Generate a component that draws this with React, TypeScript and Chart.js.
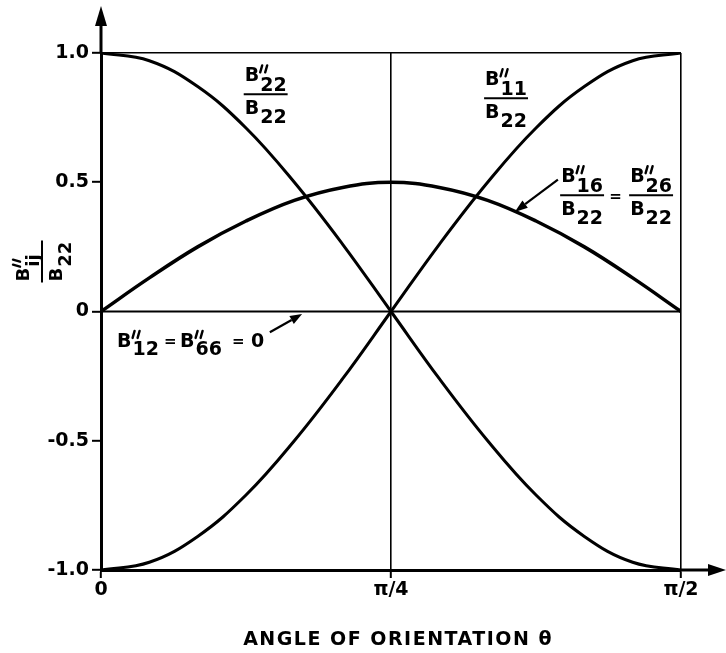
import React, { useEffect, useRef } from "react";
import { Chart, registerables } from "chart.js";

Chart.register(...registerables);

// Angle of orientation in degrees (0 .. 90 = 0 .. π/2)
const angles = [0, 7.5, 15, 22.5, 30, 37.5, 45, 52.5, 60, 67.5, 75, 82.5, 90];
// B''22 / B22
const b22Ratio = [1.0, 0.97, 0.87, 0.71, 0.5, 0.26, 0.0, -0.26, -0.5, -0.71, -0.87, -0.97, -1.0];
// B''11 / B22
const b11Ratio = [-1.0, -0.97, -0.87, -0.71, -0.5, -0.26, 0.0, 0.26, 0.5, 0.71, 0.87, 0.97, 1.0];
// B''16 / B22 = B''26 / B22
const b16Ratio = [0.0, 0.13, 0.25, 0.35, 0.43, 0.48, 0.5, 0.48, 0.43, 0.35, 0.25, 0.13, 0.0];
// B''12 = B''66 = 0
const b12Ratio = [0, 0, 0, 0, 0, 0, 0, 0, 0, 0, 0, 0, 0];

const xTickValues = [0, 45, 90];
const xTickLabels = ["0", "π/4", "π/2"];
const yTickValues = [-1, -0.5, 0, 0.5, 1];
const yTickLabels = ["-1.0", "-0.5", "0", "0.5", "1.0"];

const FONT_FAMILY = '"DejaVu Sans", "Liberation Sans", sans-serif';
const F = `bold 19px ${FONT_FAMILY}`;

function drawPrime(ctx: CanvasRenderingContext2D, x: number, top: number) {
  ctx.save();
  ctx.lineWidth = 2.4;
  ctx.lineCap = "round";
  for (let i = 0; i < 2; i++) {
    ctx.beginPath();
    ctx.moveTo(x + 3 + i * 5, top - 1);
    ctx.lineTo(x + 1 + i * 5, top + 6);
    ctx.stroke();
  }
  ctx.restore();
}

function drawB(
  ctx: CanvasRenderingContext2D,
  x: number,
  baseline: number,
  sub: string,
  prime: boolean,
  subDy: number,
  font: string = F
): number {
  ctx.font = font;
  ctx.textAlign = "left";
  ctx.textBaseline = "alphabetic";
  ctx.fillText("B", x, baseline);
  const bw = ctx.measureText("B").width;
  if (prime) drawPrime(ctx, x + bw, baseline - 15);
  ctx.fillText(sub, x + bw + 1, baseline + subDy);
  return bw + 1 + ctx.measureText(sub).width;
}

function drawFrac(
  ctx: CanvasRenderingContext2D,
  x: number,
  L: number,
  numSub: string,
  denSub: string,
  font: string = F
): number {
  const w1 = drawB(ctx, x, L - 13, numSub, true, 10, font);
  const w2 = drawB(ctx, x, L + 20, denSub, false, 9, font);
  const w = Math.max(w1, w2);
  ctx.save();
  ctx.lineWidth = 2;
  ctx.beginPath();
  ctx.moveTo(x - 1, L);
  ctx.lineTo(x + w + 1, L);
  ctx.stroke();
  ctx.restore();
  return w;
}

function arrow(
  ctx: CanvasRenderingContext2D,
  x1: number,
  y1: number,
  x2: number,
  y2: number,
  head: number,
  half: number,
  lw: number
) {
  const a = Math.atan2(y2 - y1, x2 - x1);
  const bx = x2 - head * Math.cos(a);
  const by = y2 - head * Math.sin(a);
  ctx.save();
  ctx.lineWidth = lw;
  ctx.beginPath();
  ctx.moveTo(x1, y1);
  ctx.lineTo(bx, by);
  ctx.stroke();
  ctx.beginPath();
  ctx.moveTo(x2, y2);
  ctx.lineTo(bx + half * Math.sin(a), by - half * Math.cos(a));
  ctx.lineTo(bx - half * Math.sin(a), by + half * Math.cos(a));
  ctx.closePath();
  ctx.fill();
  ctx.restore();
}

const annotationPlugin = {
  id: "annotations",
  afterDraw(chart: any) {
    const ctx: CanvasRenderingContext2D = chart.ctx;
    const xs = chart.scales.x;
    const ys = chart.scales.y;
    const area = chart.chartArea;
    const px = (v: number) => xs.getPixelForValue(v);
    const py = (v: number) => ys.getPixelForValue(v);
    ctx.save();
    ctx.fillStyle = "#000";
    ctx.strokeStyle = "#000";

    // axis arrows
    arrow(ctx, area.left, area.top, area.left, 6, 20, 6, 3);
    arrow(ctx, area.right, area.bottom, 726, area.bottom, 18, 6, 3);

    // B''22 / B22 label
    drawFrac(ctx, px(22.3), py(0.84), "22", "22");
    // B''11 / B22 label
    drawFrac(ctx, px(59.6), py(0.825), "11", "22");
    // B''16/B22 = B''26/B22
    const fx = px(71.4);
    const fL = py(0.45);
    drawFrac(ctx, fx, fL, "16", "22");
    ctx.font = `bold 15px ${FONT_FAMILY}`;
    ctx.fillText("=", fx + 48, fL + 6);
    drawFrac(ctx, fx + 69, fL, "26", "22");
    arrow(ctx, px(70.9), py(0.51), px(64.2), py(0.385), 13, 4.5, 2.2);

    // B''12 = B''66 = 0
    const lx = px(2.5);
    const lb = py(-0.137);
    drawB(ctx, lx, lb, "12", true, 8);
    ctx.font = `bold 15px ${FONT_FAMILY}`;
    ctx.fillText("=", lx + 47, lb - 1);
    drawB(ctx, lx + 63, lb, "66", true, 8);
    ctx.font = `bold 15px ${FONT_FAMILY}`;
    ctx.fillText("=", lx + 115, lb - 1);
    ctx.font = F;
    ctx.fillText("0", lx + 134, lb);
    arrow(ctx, px(26.2), py(-0.08), px(31.2), py(-0.01), 12, 4.5, 2.2);

    // Y axis title (rotated fraction)
    ctx.save();
    ctx.translate(area.left - 59, py(0.19));
    ctx.rotate(-Math.PI / 2);
    const tf = `bold 18px ${FONT_FAMILY}`;
    drawFrac(ctx, -19, 0, "ij", "22", tf);
    ctx.restore();

    // X axis title
    ctx.font = `bold 19px ${FONT_FAMILY}`;
    (ctx as any).letterSpacing = "1.5px";
    ctx.textAlign = "center";
    ctx.fillText("ANGLE OF ORIENTATION θ", px(46.1), area.bottom + 75);
    (ctx as any).letterSpacing = "0px";
    ctx.restore();
  },
};

export default function App() {
  const ref = useRef<HTMLCanvasElement | null>(null);
  useEffect(() => {
    if (!ref.current) return;
    const line = (data: number[], w: number) => ({
      data: angles.map((a, i) => ({ x: a, y: data[i] })),
      borderColor: "#000",
      backgroundColor: "#000",
      borderWidth: w,
      pointRadius: 0,
      tension: 0.4,
      fill: false,
    });
    const chart = new Chart(ref.current, {
      type: "line",
      data: {
        datasets: [
          { ...line(b12Ratio, 2), tension: 0 },
          line(b22Ratio, 3),
          line(b11Ratio, 3),
          line(b16Ratio, 3.5),
        ],
      },
      options: {
        responsive: false,
        animation: false,
        devicePixelRatio: 1,
        layout: { padding: { left: 0, right: 45, top: 53, bottom: 0 } },
        plugins: {
          legend: { display: false },
          tooltip: { enabled: false },
          title: { display: false },
        },
        scales: {
          x: {
            type: "linear",
            min: 0,
            max: 90,
            afterFit: (s: any) => {
              s.height = 83;
            },
            afterBuildTicks: (s: any) => {
              s.ticks = xTickValues.map((v) => ({ value: v }));
            },
            ticks: {
              color: "#000",
              font: { family: FONT_FAMILY, size: 19, weight: "bold" },
              padding: 1,
              maxRotation: 0,
              autoSkip: false,
              callback: (v: any) => {
                const i = xTickValues.indexOf(Number(v));
                return i >= 0 ? xTickLabels[i] : "";
              },
            },
            grid: {
              color: (c: any) =>
                c.tick && (c.tick.value === 45 || c.tick.value === 90) ? "#000" : "rgba(0,0,0,0)",
              lineWidth: 1.6,
              drawTicks: true,
              tickLength: 8,
              tickColor: "#000",
              tickWidth: 2,
            },
            border: { display: true, color: "#000", width: 3 },
          },
          y: {
            type: "linear",
            min: -1,
            max: 1,
            afterFit: (s: any) => {
              s.width = 101;
            },
            afterBuildTicks: (s: any) => {
              s.ticks = yTickValues.map((v) => ({ value: v }));
            },
            ticks: {
              color: "#000",
              font: { family: FONT_FAMILY, size: 19, weight: "bold" },
              padding: 3,
              autoSkip: false,
              callback: (v: any) => {
                const i = yTickValues.indexOf(Number(v));
                return i >= 0 ? yTickLabels[i] : "";
              },
            },
            grid: {
              color: (c: any) =>
                c.tick && c.tick.value === 1 ? "#000" : "rgba(0,0,0,0)",
              lineWidth: 1.6,
              drawTicks: true,
              tickLength: 9,
              tickColor: "#000",
              tickWidth: 2,
            },
            border: { display: true, color: "#000", width: 3 },
          },
        },
      },
      plugins: [annotationPlugin],
    } as any);
    return () => chart.destroy();
  }, []);
  return (
    <div style={{ position: "absolute", left: 0, top: 0, width: 726, height: 653, background: "#fff" }}>
      <canvas ref={ref} width={726} height={653} style={{ display: "block" }} />
    </div>
  );
}
